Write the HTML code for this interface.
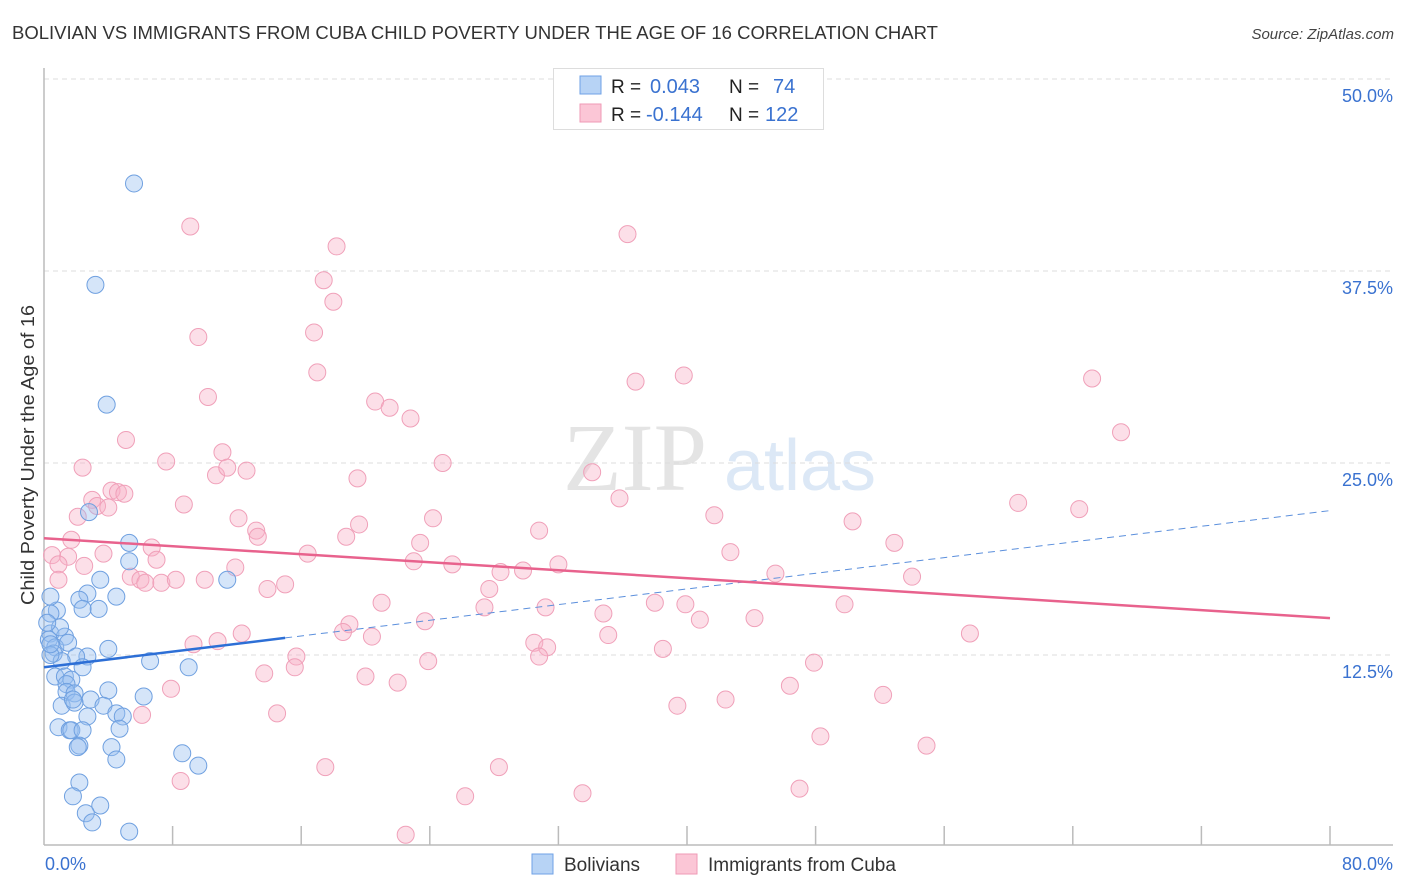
<!DOCTYPE html>
<html><head><meta charset="utf-8"><style>
body{margin:0;background:#fff;font-family:"Liberation Sans",sans-serif;}
svg{display:block}
</style></head><body>
<svg id="chart" width="1406" height="892">
<text x="12" y="39" font-size="18" fill="#333" textLength="926" lengthAdjust="spacingAndGlyphs">BOLIVIAN VS IMMIGRANTS FROM CUBA CHILD POVERTY UNDER THE AGE OF 16 CORRELATION CHART</text>
<text x="1394" y="39" font-size="15" font-style="italic" fill="#444" text-anchor="end">Source: ZipAtlas.com</text>
<text x="635" y="490" font-size="96" fill="#e4e4e4" font-family="Liberation Serif,serif" text-anchor="middle">ZIP</text>
<text x="800" y="490" font-size="72" fill="#dce8f6" text-anchor="middle">atlas</text>
<text transform="translate(34,455) rotate(-90)" font-size="18" fill="#333" text-anchor="middle" textLength="300" lengthAdjust="spacingAndGlyphs">Child Poverty Under the Age of 16</text>
<g id="grid"></g><g id="ticks"></g><g id="pts"></g><g id="trend"></g>
<g>
<rect x="553.5" y="68.5" width="270" height="61" fill="#fff" stroke="#ddd"/>
<rect x="580" y="76" width="21" height="18" fill="#b7d3f5" stroke="#6fa2e6"/>
<rect x="580" y="104" width="21" height="18" fill="#fbc6d6" stroke="#ef9ab6"/>
<text x="611" y="93" font-size="19" fill="#222">R =</text><text x="650" y="93" font-size="20" fill="#3a72d0">0.043</text>
<text x="729" y="93" font-size="19" fill="#222">N =</text><text x="773" y="93" font-size="20" fill="#3a72d0">74</text>
<text x="611" y="121" font-size="19" fill="#222">R =</text><text x="646" y="121" font-size="20" fill="#3a72d0">-0.144</text>
<text x="729" y="121" font-size="19" fill="#222">N =</text><text x="765" y="121" font-size="20" fill="#3a72d0">122</text>
</g>
<g>
<rect x="532" y="854" width="21" height="20" fill="#b7d3f5" stroke="#6fa2e6"/>
<text x="564" y="871" font-size="19" fill="#333">Bolivians</text>
<rect x="676" y="854" width="21" height="20" fill="#fbc6d6" stroke="#ef9ab6"/>
<text x="708" y="871" font-size="19" fill="#333">Immigrants from Cuba</text>
</g>
</svg>
<script>
const yTicks=[12.5,25,37.5,50];
const yTickLabels=["12.5%","25.0%","37.5%","50.0%"];
const xTickLabels=["0.0%","80.0%"];
const blueX=[5.6,3.2,3.9,2.8,5.3,5.3,3.5,11.4,4.5,2.7,2.2,3.4,2.4,0.8,0.4,0.4,0.4,1.3,0.3,0.7,0.6,1.5,4.0,2.7,2.0,1.1,2.4,6.6,9.0,0.7,1.3,1.7,1.4,1.4,1.9,4.0,6.2,2.9,1.1,1.9,3.7,2.7,4.5,4.9,0.9,1.6,1.7,2.4,4.7,2.2,2.1,4.2,8.6,4.5,9.6,2.2,1.8,3.5,2.6,3.0,5.3,0.4,0.4,1.0,1.8,0.2];
const blueY=[43.2,36.6,28.8,21.8,19.8,18.6,17.4,17.4,16.3,16.5,16.1,15.5,15.5,15.4,16.3,15.2,13.9,13.7,13.5,13.0,12.6,13.3,12.9,12.4,12.4,12.1,11.7,12.1,11.7,11.1,11.1,10.9,10.6,10.1,10.0,10.2,9.8,9.6,9.2,9.4,9.2,8.5,8.7,8.5,7.8,7.6,7.6,7.6,7.7,6.6,6.5,6.5,6.1,5.7,5.3,4.2,3.3,2.7,2.2,1.6,1.0,12.5,13.2,14.3,9.6,14.6];
const pinkX=[9.1,18.2,36.3,17.4,18.0,9.6,16.8,17.0,36.8,39.8,65.2,10.2,20.6,21.5,22.8,5.1,67.0,7.6,11.1,2.4,24.8,10.7,11.4,12.6,19.5,34.1,3.0,4.2,4.6,5.0,3.3,4.0,8.7,35.8,60.6,64.4,2.1,12.1,24.2,41.7,50.3,19.6,13.2,13.3,18.8,30.8,1.7,23.4,52.9,0.5,1.5,6.7,3.7,42.7,0.9,7.0,16.4,23.0,25.4,32.0,2.5,11.9,28.4,29.8,45.5,54.0,5.4,6.0,6.3,7.3,8.2,10.0,15.0,13.9,27.7,0.9,21.0,27.4,31.2,34.8,38.0,39.9,49.8,23.7,40.8,44.2,19.0,18.6,20.4,12.3,10.8,35.1,57.6,9.3,30.5,31.3,15.7,30.8,23.9,38.5,15.6,13.7,20.0,22.0,47.9,7.9,46.4,52.2,39.4,42.4,14.5,6.1,48.3,54.9,17.5,28.3,8.5,33.5,47.0,26.2,22.5];
const pinkY=[40.4,39.1,39.9,36.9,35.5,33.2,33.5,30.9,30.3,30.7,30.5,29.3,29.0,28.6,27.9,26.5,27.0,25.1,25.7,24.7,25.0,24.2,24.7,24.5,24.0,24.4,22.6,23.2,23.1,23.0,22.2,22.1,22.3,22.7,22.4,22.0,21.5,21.4,21.4,21.6,21.2,21.0,20.6,20.2,20.2,20.6,20.0,19.8,19.8,19.0,18.9,19.5,19.1,19.2,18.4,18.7,19.1,18.6,18.4,18.4,18.3,18.2,17.9,18.0,17.8,17.6,17.6,17.4,17.2,17.2,17.4,17.4,17.1,16.8,16.8,17.4,15.9,15.6,15.6,15.2,15.9,15.8,15.8,14.7,14.8,14.9,14.5,14.0,13.7,13.9,13.4,13.8,13.9,13.2,13.3,13.0,12.4,12.4,12.1,12.9,11.7,11.3,11.1,10.7,12.0,10.3,10.5,9.9,9.2,9.6,8.7,8.6,7.2,6.6,5.2,5.2,4.3,3.5,3.8,3.3,0.8];
const blueLine=[11.7,21.9];
const pinkLine=[20.1,14.9];
const NS="http://www.w3.org/2000/svg";
const X=v=>44+v*(1286/80), Y=v=>847-v*(768/50);
function mk(tag,attrs,parent){const e=document.createElementNS(NS,tag);for(const k in attrs)e.setAttribute(k,attrs[k]);document.getElementById(parent).appendChild(e);return e;}
yTicks.forEach((t,i)=>{
 const l=mk('line',{x1:44,x2:1393,y1:Y(t),y2:Y(t),stroke:'#ddd','stroke-dasharray':'5,4'},'grid');
 
 
 const tx=mk('text',{x:1393,y:Y(t)+23,'font-size':18,fill:'#3a72d0','text-anchor':'end'},'grid');
 tx.textContent=yTickLabels[i];
 
 
});
const ax=mk('line',{x1:44,x2:1393,y1:845,y2:845,stroke:'#bbb','stroke-width':1.5},'ticks');


const ay=mk('line',{x1:44,x2:44,y1:68,y2:845,stroke:'#bbb','stroke-width':1.5},'ticks');


for(let i=1;i<=10;i++){const t=mk('line',{x1:X(i*8),x2:X(i*8),y1:826,y2:845,stroke:'#bbb','stroke-width':1.5},'ticks');
 
 }
const xl0=mk('text',{x:45,y:870,'font-size':18,fill:'#3a72d0'},'ticks');xl0.textContent=xTickLabels[0];


const xl1=mk('text',{x:1393,y:870,'font-size':18,fill:'#3a72d0','text-anchor':'end'},'ticks');xl1.textContent=xTickLabels[1];


pinkX.forEach((v,i)=>{const c=mk('circle',{cx:X(v),cy:Y(pinkY[i]),r:8.5,fill:'rgba(248,175,198,0.4)',stroke:'#f0a0b9','stroke-width':1},'pts');
 
 });
blueX.forEach((v,i)=>{const c=mk('circle',{cx:X(v),cy:Y(blueY[i]),r:8.5,fill:'rgba(150,190,240,0.4)',stroke:'#6fa0e0','stroke-width':1},'pts');
 
 });
const bx=15;const byMid=blueLine[0]+(blueLine[1]-blueLine[0])*bx/80;
const b1=mk('line',{x1:X(0),y1:Y(blueLine[0]),x2:X(bx),y2:Y(byMid),stroke:'#2d6fd6','stroke-width':2.5},'trend');


const b2=mk('line',{x1:X(bx),y1:Y(byMid),x2:X(80),y2:Y(blueLine[1]),stroke:'#5b8fdc','stroke-width':1,'stroke-dasharray':'7,5'},'trend');


const p1=mk('line',{x1:X(0),y1:Y(pinkLine[0]),x2:X(80),y2:Y(pinkLine[1]),stroke:'#e8628d','stroke-width':2.5},'trend');


</script>
</body></html>
